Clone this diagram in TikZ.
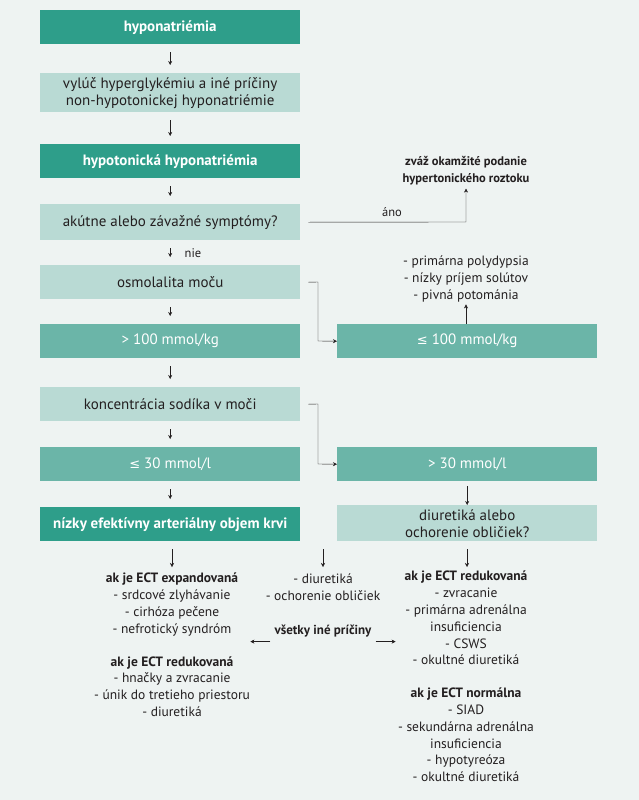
\documentclass[tikz,border=0pt]{standalone}
\usepackage{fontspec}
\setmainfont{PT Sans}
\newfontfamily\symf{DejaVu Sans}
\usetikzlibrary{arrows.meta}
\definecolor{bg}{HTML}{EEF3F2}
\definecolor{dk}{HTML}{2E9E8A}
\definecolor{md}{HTML}{6BB5A8}
\definecolor{lt}{HTML}{B9DAD4}
\definecolor{tx}{HTML}{231F20}
\newcommand{\lesym}{{\symf\fontsize{13}{13}\selectfont ≤}}
\begin{document}
\begin{tikzpicture}[x=1pt,y=-1pt,
  box/.style={draw=none,minimum width=260pt,anchor=north west,align=center,inner sep=0pt,font=\fontsize{15}{17}\selectfont},
  dkb/.style={box,fill=dk,text=white,font=\bfseries\fontsize{15}{17}\selectfont},
  mdb/.style={box,fill=md,text=white},
  ltb/.style={box,fill=lt,text=tx},
  lst/.style={align=center,text=tx,font=\fontsize{13.5}{16.8}\selectfont,anchor=north,inner sep=0pt},
  ar/.style={-{Stealth[length=4pt,width=4pt]},thin,tx}]
\fill[bg] (0,0) rectangle (639,800);
\useasboundingbox (0,0) rectangle (639,800);
\node[dkb,minimum height=34pt] (a) at (40,10) {hyponatriémia};
\node[ltb,minimum height=39pt] (b) at (40,73) {vylúč hyperglykémiu a iné príčiny\\non-hypotonickej hyponatriémie};
\node[dkb,minimum height=34pt] (c) at (40,144) {hypotonická hyponatriémia};
\node[ltb,minimum height=36pt] (d) at (40,204) {akútne alebo závažné symptómy?};
\node[ltb,minimum height=34pt] (e) at (40,265) {osmolalita moču};
\node[mdb,minimum height=34pt] (f) at (40,324) {> 100 mmol/kg};
\node[mdb,minimum height=34pt] (g) at (337,324) {\lesym\ 100 mmol/kg};
\node[ltb,minimum height=34pt] (h) at (40,387) {koncentrácia sodíka v moči};
\node[mdb,minimum height=34pt] (i) at (40,447) {\lesym\ 30 mmol/l};
\node[mdb,minimum height=34pt] (j) at (337,447) {> 30 mmol/l};
\node[dkb,minimum height=34pt] (k) at (40,507) {nízky efektívny arteriálny objem krvi};
\node[ltb,minimum height=36pt] (l) at (337,505) {diuretiká alebo\\ochorenie obličiek?};
\node[align=center,text=tx,font=\bfseries\fontsize{12.5}{17}\selectfont,inner sep=0pt] (z) at (466,171) {zváž okamžité podanie\\hypertonického roztoku};
\node[lst] (p) at (466,256) {- primárna polydypsia\\- nízky príjem solútov\\- pivná potománia};
\node[lst] (q) at (172,573) {\textbf{ak je ECT expandovaná}\\- srdcové zlyhávanie\\- cirhóza pečene\\- nefrotický syndróm\\[16pt]\textbf{ak je ECT redukovaná}\\- hnačky a zvracanie\\- únik do tretieho priestoru\\- diuretiká};
\node[lst] (r) at (323,574) {- diuretiká\\- ochorenie obličiek};
\node[lst,font=\bfseries\fontsize{13}{14}\selectfont] (s) at (323,625) {všetky iné príčiny};
\node[lst] (t) at (466,571) {\textbf{ak je ECT redukovaná}\\- zvracanie\\- primárna adrenálna\\insuficiencia\\- CSWS\\- okultné diuretiká\\[16pt]\textbf{ak je ECT normálna}\\- SIAD\\- sekundárna adrenálna\\insuficiencia\\- hypotyreóza\\- okultné diuretiká};
\node[text=tx,font=\fontsize{12.5}{13}\selectfont] (ano) at (392,212) {áno};
\node[text=tx,font=\fontsize{12.5}{13}\selectfont] (nie) at (193,253) {nie};
\foreach \u/\v in {a/b,b/c,c/d,d/e,e/f,f/h,h/i,i/k}
  \draw[ar] ([yshift=-8pt]\u.south) -- ([yshift=8pt]\v.north);
\draw[ar] ([xshift=8pt]d.east) -- (466,222) -- ([yshift=-3pt]z.south);
\draw[ar] ([xshift=8pt]e.east) -- (318,282) -- (318,341) -- (g.west);
\draw[ar] ([xshift=8pt]h.east) -- (318,404) -- (318,464) -- (j.west);
\draw[ar] (g.north -| p.south) -- ([yshift=-2pt]p.south);
\draw[ar] (j.north |- 0,486) -- (l.north);
\coordinate (k1) at (172,549); \coordinate (m1) at (323,549); \coordinate (l1) at (467,549);
\draw[ar] (k1) -- (172,567);
\draw[ar] (m1) -- (323,567);
\draw[ar] (l1) -- (467,567);
\coordinate (s1) at ([xshift=-4pt,yshift=-4pt]s.south west);
\coordinate (s2) at ([xshift=4pt,yshift=-4pt]s.south east);
\draw[ar] (s1) -- ++(-20,0);
\draw[ar] (s2) -- ++(20,0);
\end{tikzpicture}
\end{document}
